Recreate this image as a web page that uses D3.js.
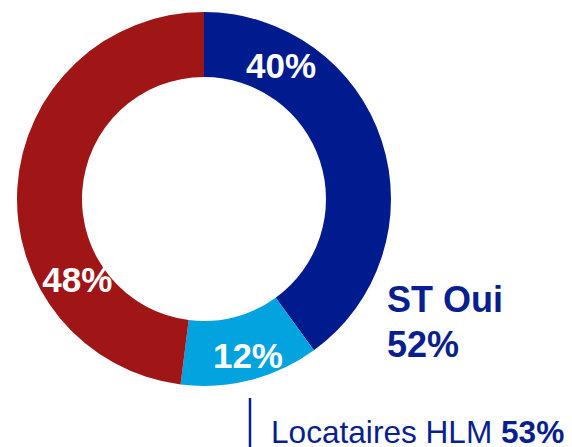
<!DOCTYPE html>
<html>
<head>
<meta charset="utf-8">
<script src="https://cdn.jsdelivr.net/npm/d3@7"></script>
<style>
  html, body { margin: 0; padding: 0; background: #fff; }
  svg { display: block; }
</style>
</head>
<body>
<svg id="chart" width="572" height="447"></svg>
<script>
// ---- data ----
const categories = ["Oui", "Oui (autre)", "Non"];
const values = [40, 12, 48];
const sliceLabels = ["40%", "12%", "48%"];
const calloutTitle = "ST Oui";
const calloutValue = "52%";
const footLabel = "Locataires HLM ";
const footValue = "53%";

// ---- styles / layout ----
const colors = ["#001B8E", "#02A3DF", "#A01617"];
const navy = "#0A1F8F";
const cx = 204, cy = 199, outerR = 187, innerR = 122;
const labelAngles = [30, 164.3, 237.6]; // degrees, clockwise from top
const labelRadii = [154, 162.5, 150];

const svg = d3.select("#chart");
const g = svg.append("g").attr("transform", `translate(${cx},${cy})`);

const pie = d3.pie().sort(null).value(d => d)(values);
const arc = d3.arc().innerRadius(innerR).outerRadius(outerR);
const color = d3.scaleOrdinal().domain(categories).range(colors);

g.selectAll("path.slice")
  .data(pie)
  .join("path")
  .attr("class", "slice")
  .attr("d", arc)
  .attr("fill", (d, i) => color(categories[i]));

g.selectAll("text.lbl")
  .data(pie)
  .join("text")
  .attr("class", "lbl")
  .attr("x", (d, i) => labelRadii[i] * Math.sin(labelAngles[i] * Math.PI / 180))
  .attr("y", (d, i) => -labelRadii[i] * Math.cos(labelAngles[i] * Math.PI / 180))
  .attr("dy", "0.36em")
  .attr("text-anchor", "middle")
  .attr("font-family", "Liberation Sans, Arial, sans-serif")
  .attr("font-weight", "bold")
  .attr("font-size", 35)
  .attr("fill", "#fff")
  .text((d, i) => sliceLabels[i]);

// callout
const callout = svg.append("text")
  .attr("font-family", "Liberation Sans, Arial, sans-serif")
  .attr("font-weight", "bold")
  .attr("font-size", 36)
  .attr("fill", navy);
callout.append("tspan").attr("x", 387).attr("y", 312).text(calloutTitle);
callout.append("tspan").attr("x", 387).attr("y", 357).text(calloutValue);

// foot
svg.append("line")
  .attr("x1", 250).attr("x2", 250)
  .attr("y1", 398).attr("y2", 447)
  .attr("stroke", navy).attr("stroke-width", 2.5);

const foot = svg.append("text")
  .attr("x", 271).attr("y", 443)
  .attr("font-family", "Liberation Sans, Arial, sans-serif")
  .attr("font-size", 31.6)
  .attr("fill", navy);
foot.append("tspan").text(footLabel);
foot.append("tspan").attr("font-weight", "bold").text(footValue);
</script>
</body>
</html>
